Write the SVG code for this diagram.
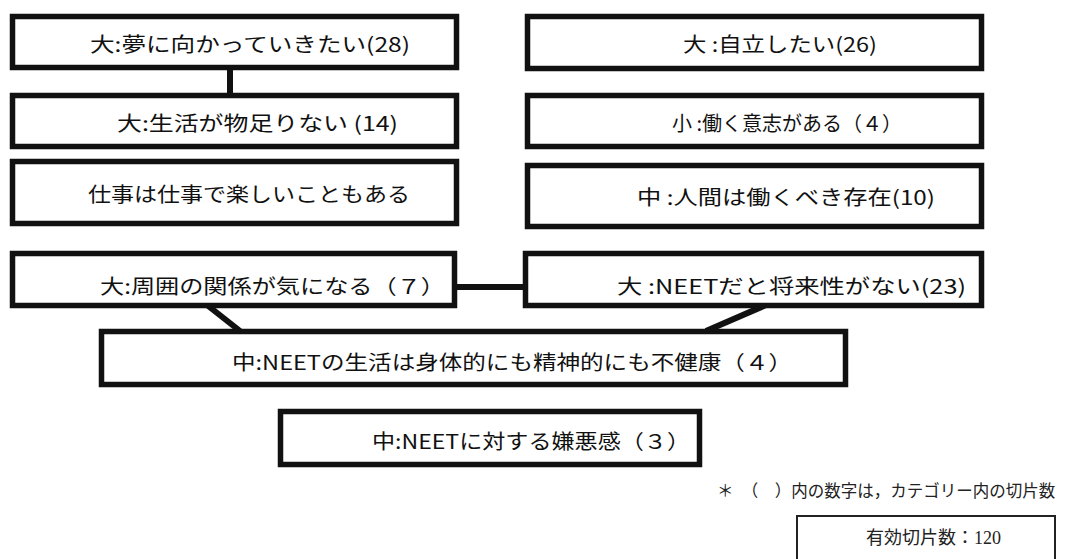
<svg xmlns="http://www.w3.org/2000/svg" width="1066" height="559" viewBox="0 0 1066 559">
<style>
.box{fill:#fff;stroke:#111;stroke-width:5.5}
.lbl{font-family:"Noto Sans CJK JP","Noto Sans CJK SC",sans-serif;font-size:20px;fill:#111;dominant-baseline:central}
.con{stroke:#111;stroke-width:6;fill:none}
.note{font-family:"Liberation Serif","Noto Sans CJK JP",serif;fill:#222;dominant-baseline:central}
.nbox{fill:#fff;stroke:#222;stroke-width:2}
</style>
<rect width="1066" height="559" fill="#fff"/>
<g id="connectors">
<line class="con" x1="230" y1="68" x2="230" y2="95"/>
<line class="con" x1="455" y1="287" x2="525" y2="287"/>
<line class="con" x1="207" y1="305" x2="240" y2="331"/>
<line class="con" x1="766" y1="305" x2="706" y2="331"/>
</g>
<g id="n1"><rect class="box" x="12.5" y="16.5" width="444" height="51"/><text class="lbl" x="90" y="43" textLength="320" lengthAdjust="spacingAndGlyphs">大:夢に向かっていきたい(28)</text></g>
<g id="n2"><rect class="box" x="527.5" y="16.5" width="454" height="52"/><text class="lbl" x="683" y="43" textLength="194" lengthAdjust="spacingAndGlyphs">大 :自立したい(26)</text></g>
<g id="n3"><rect class="box" x="12.5" y="95.5" width="444" height="51"/><text class="lbl" x="117" y="122" textLength="281" lengthAdjust="spacingAndGlyphs">大:生活が物足りない (14)</text></g>
<g id="n4"><rect class="box" x="527.5" y="95.5" width="454" height="51"/><text class="lbl" x="672" y="122" textLength="230" lengthAdjust="spacingAndGlyphs">小 :働く意志がある（４）</text></g>
<g id="n5"><rect class="box" x="12.5" y="161.5" width="444" height="62"/><text class="lbl" x="88" y="193" textLength="322" lengthAdjust="spacingAndGlyphs">仕事は仕事で楽しいこともある</text></g>
<g id="n6"><rect class="box" x="527.5" y="165.5" width="454" height="61"/><text class="lbl" x="637" y="196" textLength="298" lengthAdjust="spacingAndGlyphs">中 :人間は働くべき存在(10)</text></g>
<g id="n7"><rect class="box" x="12.5" y="253.5" width="442" height="52"/><text class="lbl" x="100" y="285" textLength="345" lengthAdjust="spacingAndGlyphs">大:周囲の関係が気になる（７）</text></g>
<g id="n8"><rect class="box" x="525.5" y="253.5" width="456" height="52"/><text class="lbl" x="617" y="285" textLength="349" lengthAdjust="spacingAndGlyphs">大 :NEETだと将来性がない(23)</text></g>
<g id="n9"><rect class="box" x="101.5" y="331.5" width="744" height="53"/><text class="lbl" x="232" y="361" textLength="560" lengthAdjust="spacingAndGlyphs">中:NEETの生活は身体的にも精神的にも不健康（４）</text></g>
<g id="n10"><rect class="box" x="280.5" y="411.5" width="419" height="53"/><text class="lbl" x="372" y="440" textLength="318" lengthAdjust="spacingAndGlyphs">中:NEETに対する嫌悪感（３）</text></g>
<text class="note" x="717" y="491" font-size="16.5">＊　（　）内の数字は，カテゴリー内の切片数</text>
<g id="n11"><rect class="nbox" x="797" y="516" width="258" height="50"/><text class="note" x="866" y="538" font-size="18">有効切片数：120</text></g>
</svg>
